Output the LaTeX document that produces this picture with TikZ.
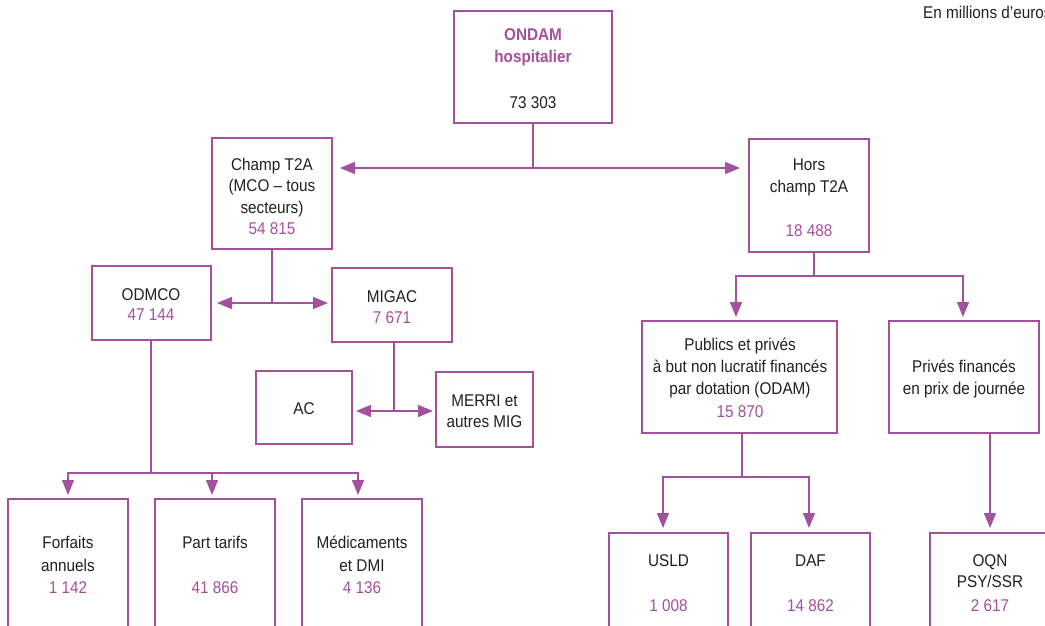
\documentclass[tikz,border=0pt]{standalone}
\usepackage{fontspec}
\setmainfont[FakeStretch=0.9]{Liberation Sans}
\usetikzlibrary{arrows.meta}
\definecolor{plum}{RGB}{163,80,157}
\definecolor{ink}{RGB}{35,31,32}
\begin{document}
\begin{tikzpicture}[x=1pt,y=-1pt,
  box/.style={draw=plum, line width=1.4pt, inner sep=0pt, outer sep=0pt},
  txt/.style={anchor=base, font=\fontsize{17}{20}\selectfont, text=ink, inner sep=0pt},
  num/.style={txt, text=plum},
  conn/.style={draw=plum, line width=1.4pt},
  arr/.style={conn, -{Triangle[length=15pt,width=12pt]}}]
\useasboundingbox (0,0) rectangle (1045,625);
\clip (0,0) rectangle (1045,625);
% boxes
\node[box, minimum width=158pt, minimum height=112pt] (ondam) at (533,67) {};
\node[box, minimum width=120pt, minimum height=111pt] (champ) at (272,193.5) {};
\node[box, minimum width=120pt, minimum height=113pt] (hors) at (809,195.5) {};
\node[box, minimum width=119pt, minimum height=74pt] (odmco) at (151.5,303) {};
\node[box, minimum width=120pt, minimum height=74pt] (migac) at (392,305) {};
\node[box, minimum width=96pt, minimum height=73pt] (ac) at (304,407.5) {};
\node[box, minimum width=97pt, minimum height=75pt] (merri) at (484.5,409.5) {};
\node[box, minimum width=120pt, minimum height=141pt] (forf) at (68,569.5) {};
\node[box, minimum width=120pt, minimum height=141pt] (part) at (215,569.5) {};
\node[box, minimum width=120pt, minimum height=141pt] (medic) at (362,569.5) {};
\node[box, minimum width=195pt, minimum height=112pt] (pub) at (739.5,377) {};
\node[box, minimum width=150pt, minimum height=112pt] (priv) at (964,377) {};
\node[box, minimum width=119pt, minimum height=107pt] (usld) at (668.5,586.5) {};
\node[box, minimum width=119pt, minimum height=107pt] (daf) at (810.5,586.5) {};
\node[box, minimum width=120pt, minimum height=107pt] (oqn) at (990,586.5) {};
% junctions
\coordinate (j1) at (533,168);
\coordinate (j2) at (814,276);
\coordinate (j3) at (742,477);
\coordinate (j4) at (272,303);
\coordinate (j5) at (394,411);
\coordinate (j6) at (151,473);
% connectors
\draw[conn] (ondam.south) -- (j1);
\draw[arr, shorten >=8pt] (j1) -- (j1 -| champ.east);
\draw[arr, shorten >=9pt] (j1) -- (j1 -| hors.west);
\draw[conn] (hors.south -| j2) -- (j2);
\draw[arr, shorten >=4pt] (j2) -| ([xshift=-3.5pt]pub.north);
\draw[arr, shorten >=4pt] (j2) -| ([xshift=-1pt]priv.north);
\draw[conn] (pub.south -| j3) -- (j3);
\draw[arr, shorten >=5pt] (j3) -| ([xshift=-5.5pt]usld.north);
\draw[arr, shorten >=5pt] (j3) -| ([xshift=-1.5pt]daf.north);
\draw[arr, shorten >=5pt] (priv.south -| oqn.north) -- (oqn.north);
\draw[conn] (champ.south) -- (j4);
\draw[arr, shorten >=6pt] (j4) -- (j4 -| odmco.east);
\draw[arr, shorten >=4pt] (j4) -- (j4 -| migac.west);
\draw[conn] (migac.south -| j5) -- (j5);
\draw[arr, shorten >=4pt] (j5) -- (j5 -| ac.east);
\draw[arr, shorten >=3pt] (j5) -- (j5 -| merri.west);
\draw[conn] (odmco.south -| j6) -- (j6);
\draw[arr, shorten >=4pt] (j6) -| (forf.north);
\draw[arr, shorten >=4pt] (j6) -| ([xshift=-3pt]part.north);
\draw[arr, shorten >=4pt] (j6) -| ([xshift=-4pt]medic.north);
% texts
\node[txt, anchor=base west] (unit) at (923,18) {En millions d’euros};
\node[num, font=\bfseries\fontsize{17}{20}\selectfont] (t1a) at (533,40) {ONDAM};
\node[num, font=\bfseries\fontsize{17}{20}\selectfont] (t1b) at (533,62) {hospitalier};
\node[txt] (t1c) at (533,108) {73 303};
\node[txt] (t2a) at (272,170) {Champ T2A};
\node[txt] (t2b) at (272,191.5) {(MCO – tous};
\node[txt] (t2c) at (272,213) {secteurs)};
\node[num] (t2d) at (272,234) {54 815};
\node[txt] (t3a) at (809,170) {Hors};
\node[txt] (t3b) at (809,192) {champ T2A};
\node[num] (t3c) at (809,236) {18 488};
\node[txt] (t4a) at (740,350) {Publics et privés};
\node[txt] (t4b) at (740,372) {à but non lucratif financés};
\node[txt] (t4c) at (740,394) {par dotation (ODAM)};
\node[num] (t4d) at (740,417) {15 870};
\node[txt] (t5a) at (964,372) {Privés financés};
\node[txt] (t5b) at (964,394) {en prix de journée};
\node[txt] (t6a) at (151,300) {ODMCO};
\node[num] (t6b) at (151,320) {47 144};
\node[txt] (t7a) at (392,302) {MIGAC};
\node[num] (t7b) at (392,323) {7 671};
\node[txt] (t8a) at (304,414) {AC};
\node[txt] (t9a) at (484.5,406) {MERRI et};
\node[txt] (t9b) at (484.5,427) {autres MIG};
\node[txt] (t10a) at (68,548) {Forfaits};
\node[txt] (t10b) at (68,571) {annuels};
\node[num] (t10c) at (68,593) {1 142};
\node[txt] (t11a) at (215,548) {Part tarifs};
\node[num] (t11b) at (215,593) {41 866};
\node[txt] (t12a) at (362,548) {Médicaments};
\node[txt] (t12b) at (362,571) {et DMI};
\node[num] (t12c) at (362,593) {4 136};
\node[txt] (t13a) at (668.5,566) {USLD};
\node[num] (t13b) at (668.5,611) {1 008};
\node[txt] (t14a) at (810.5,566) {DAF};
\node[num] (t14b) at (810.5,611) {14 862};
\node[txt] (t15a) at (990,566) {OQN};
\node[txt] (t15b) at (990,587) {PSY/SSR};
\node[num] (t15c) at (990,611) {2 617};
\end{tikzpicture}
\end{document}
